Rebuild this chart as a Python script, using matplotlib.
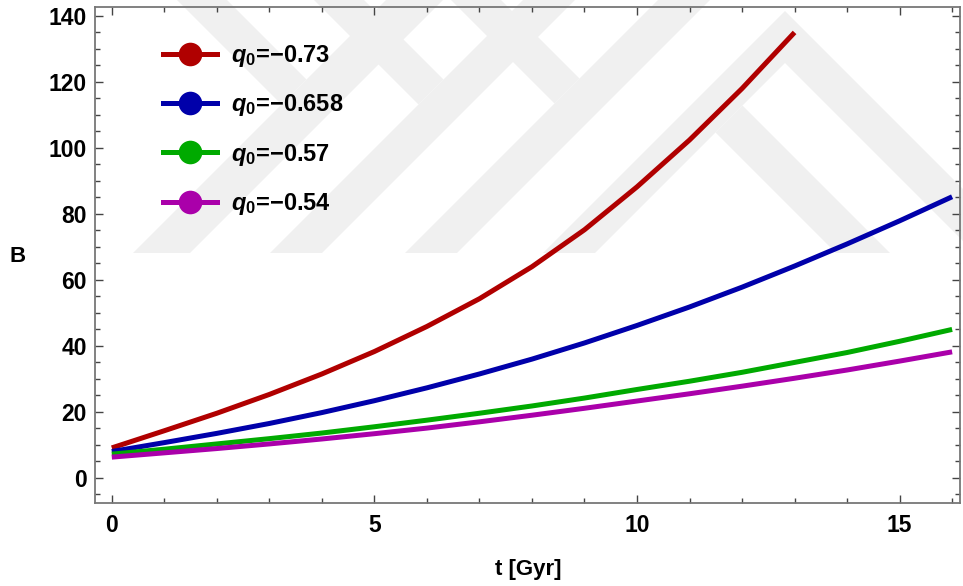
import matplotlib.pyplot as plt
from matplotlib.lines import Line2D
from matplotlib.patches import Polygon
from matplotlib.ticker import MultipleLocator

plt.rcParams['font.family'] = ['Liberation Sans', 'DejaVu Sans']
plt.rcParams['font.weight'] = 'bold'
plt.rcParams['mathtext.fontset'] = 'custom'
plt.rcParams['mathtext.rm'] = 'Liberation Sans'
plt.rcParams['mathtext.bf'] = 'Liberation Sans:bold'
plt.rcParams['mathtext.it'] = 'Liberation Sans:italic'
plt.rcParams['mathtext.bfit'] = 'Liberation Sans:bold:italic'

# B(t) for each deceleration parameter q0
q0_labels = ['-0.73', '-0.658', '-0.57', '-0.54']
colors = ['#b00000', '#0000aa', '#00aa00', '#aa00aa']

t_red = [0, 1, 2, 3, 4, 5, 6, 7, 8, 9, 10, 11, 12, 13]
b_red = [9.1, 14.3, 19.6, 25.3, 31.5, 38.3, 45.9, 54.3, 64.0, 75.2, 88.2, 102.4, 118.0, 135.0]

t_full = [0, 1, 2, 3, 4, 5, 6, 7, 8, 9, 10, 11, 12, 13, 14, 15, 16]
b_blue = [8.0, 10.7, 13.5, 16.5, 19.8, 23.4, 27.3, 31.5, 36.0, 40.9, 46.2, 51.8, 57.8, 64.2, 70.9, 77.9, 85.2]
b_green = [7.2, 8.7, 10.3, 11.9, 13.6, 15.5, 17.5, 19.6, 21.8, 24.2, 26.8, 29.3, 32.0, 35.0, 38.0, 41.4, 45.0]
b_magenta = [6.3, 7.6, 8.9, 10.3, 11.8, 13.4, 15.1, 17.0, 19.0, 21.1, 23.3, 25.5, 27.8, 30.2, 32.7, 35.4, 38.2]

series = [(t_red, b_red), (t_full, b_blue), (t_full, b_green), (t_full, b_magenta)]

W, H = 963, 586
fig = plt.figure(figsize=(W / 100, H / 100), dpi=100)


# background watermark bands, given in pixel coords (y down)
def px_poly(pts):
    return Polygon([(x / W, 1 - y / H) for x, y in pts], closed=True,
                   transform=fig.transFigure, facecolor='#f0f0f0',
                   edgecolor='none', zorder=-10)


wm = []
for c1, c2 in [(386, 443), (523, 575), (658, 710)]:
    wm.append([(c1 - 253, 253), (c2 - 253, 253), (c2, 0), (c1, 0)])
for d1, d2, c in [(177, 227, 386), (314, 364, 523), (451, 501, 658)]:
    wm.append([(d1, 0), (d2, 0), ((c + d2) / 2, (c - d2) / 2), ((c + d1) / 2, (c - d1) / 2)])
# the big chevron on the right
wm.append([(543, 253), (785, 11), (1027, 253), (975, 253), (785, 63), (595, 253)])
wm.append([(742.5, 105.5), (890, 253), (836, 253), (715.5, 132.5)])
for pts in wm:
    fig.add_artist(px_poly(pts))

ax = fig.add_axes([95 / W, 1 - 503 / H, (960 - 95) / W, (503 - 7) / H])
ax.patch.set_alpha(0)
ax.set_zorder(1)

for (t, b), col in zip(series, colors):
    ax.plot(t, b, color=col, lw=3.6, solid_capstyle='butt', solid_joinstyle='round')

ax.set_xlim(-0.32, 16.15)
ax.set_ylim(-7.6, 142.7)
ax.set_xticks([0, 5, 10, 15])
ax.set_yticks(range(0, 141, 20))
ax.xaxis.set_minor_locator(MultipleLocator(1))
ax.yaxis.set_minor_locator(MultipleLocator(5))
ax.tick_params(which='both', direction='in', top=True, right=True,
               color='#444444', width=1.0, labelsize=16.5)
ax.tick_params(which='major', length=6)
ax.tick_params(which='minor', length=3.5)
ax.tick_params(axis='x', pad=8)
ax.tick_params(axis='y', pad=6)
for s in ax.spines.values():
    s.set_color('#777777')
    s.set_linewidth(1.3)

fig.text(18 / W, 1 - 256 / H, 'B', ha='center', va='center', fontsize=16, fontweight='bold')
fig.text(528 / W, 1 - 570 / H, 't [Gyr]', ha='center', va='center', fontsize=16, fontweight='bold')

handles = [Line2D([], [], color=col, lw=3.6, marker='o', markersize=17, markeredgewidth=0)
           for col in colors]
labels = [r'$\mathbfit{q}_{\mathbf{0}}$=' + v.replace('-', '\u2212') for v in q0_labels]
ax.legend(handles, labels, loc='upper left', bbox_to_anchor=(163 / W, 1 - 43 / H),
          bbox_transform=fig.transFigure, frameon=False, fontsize=17,
          handlelength=2.3, handletextpad=0.6, labelspacing=0.99,
          borderpad=0, borderaxespad=0)

fig.savefig('out.png', dpi=100)
